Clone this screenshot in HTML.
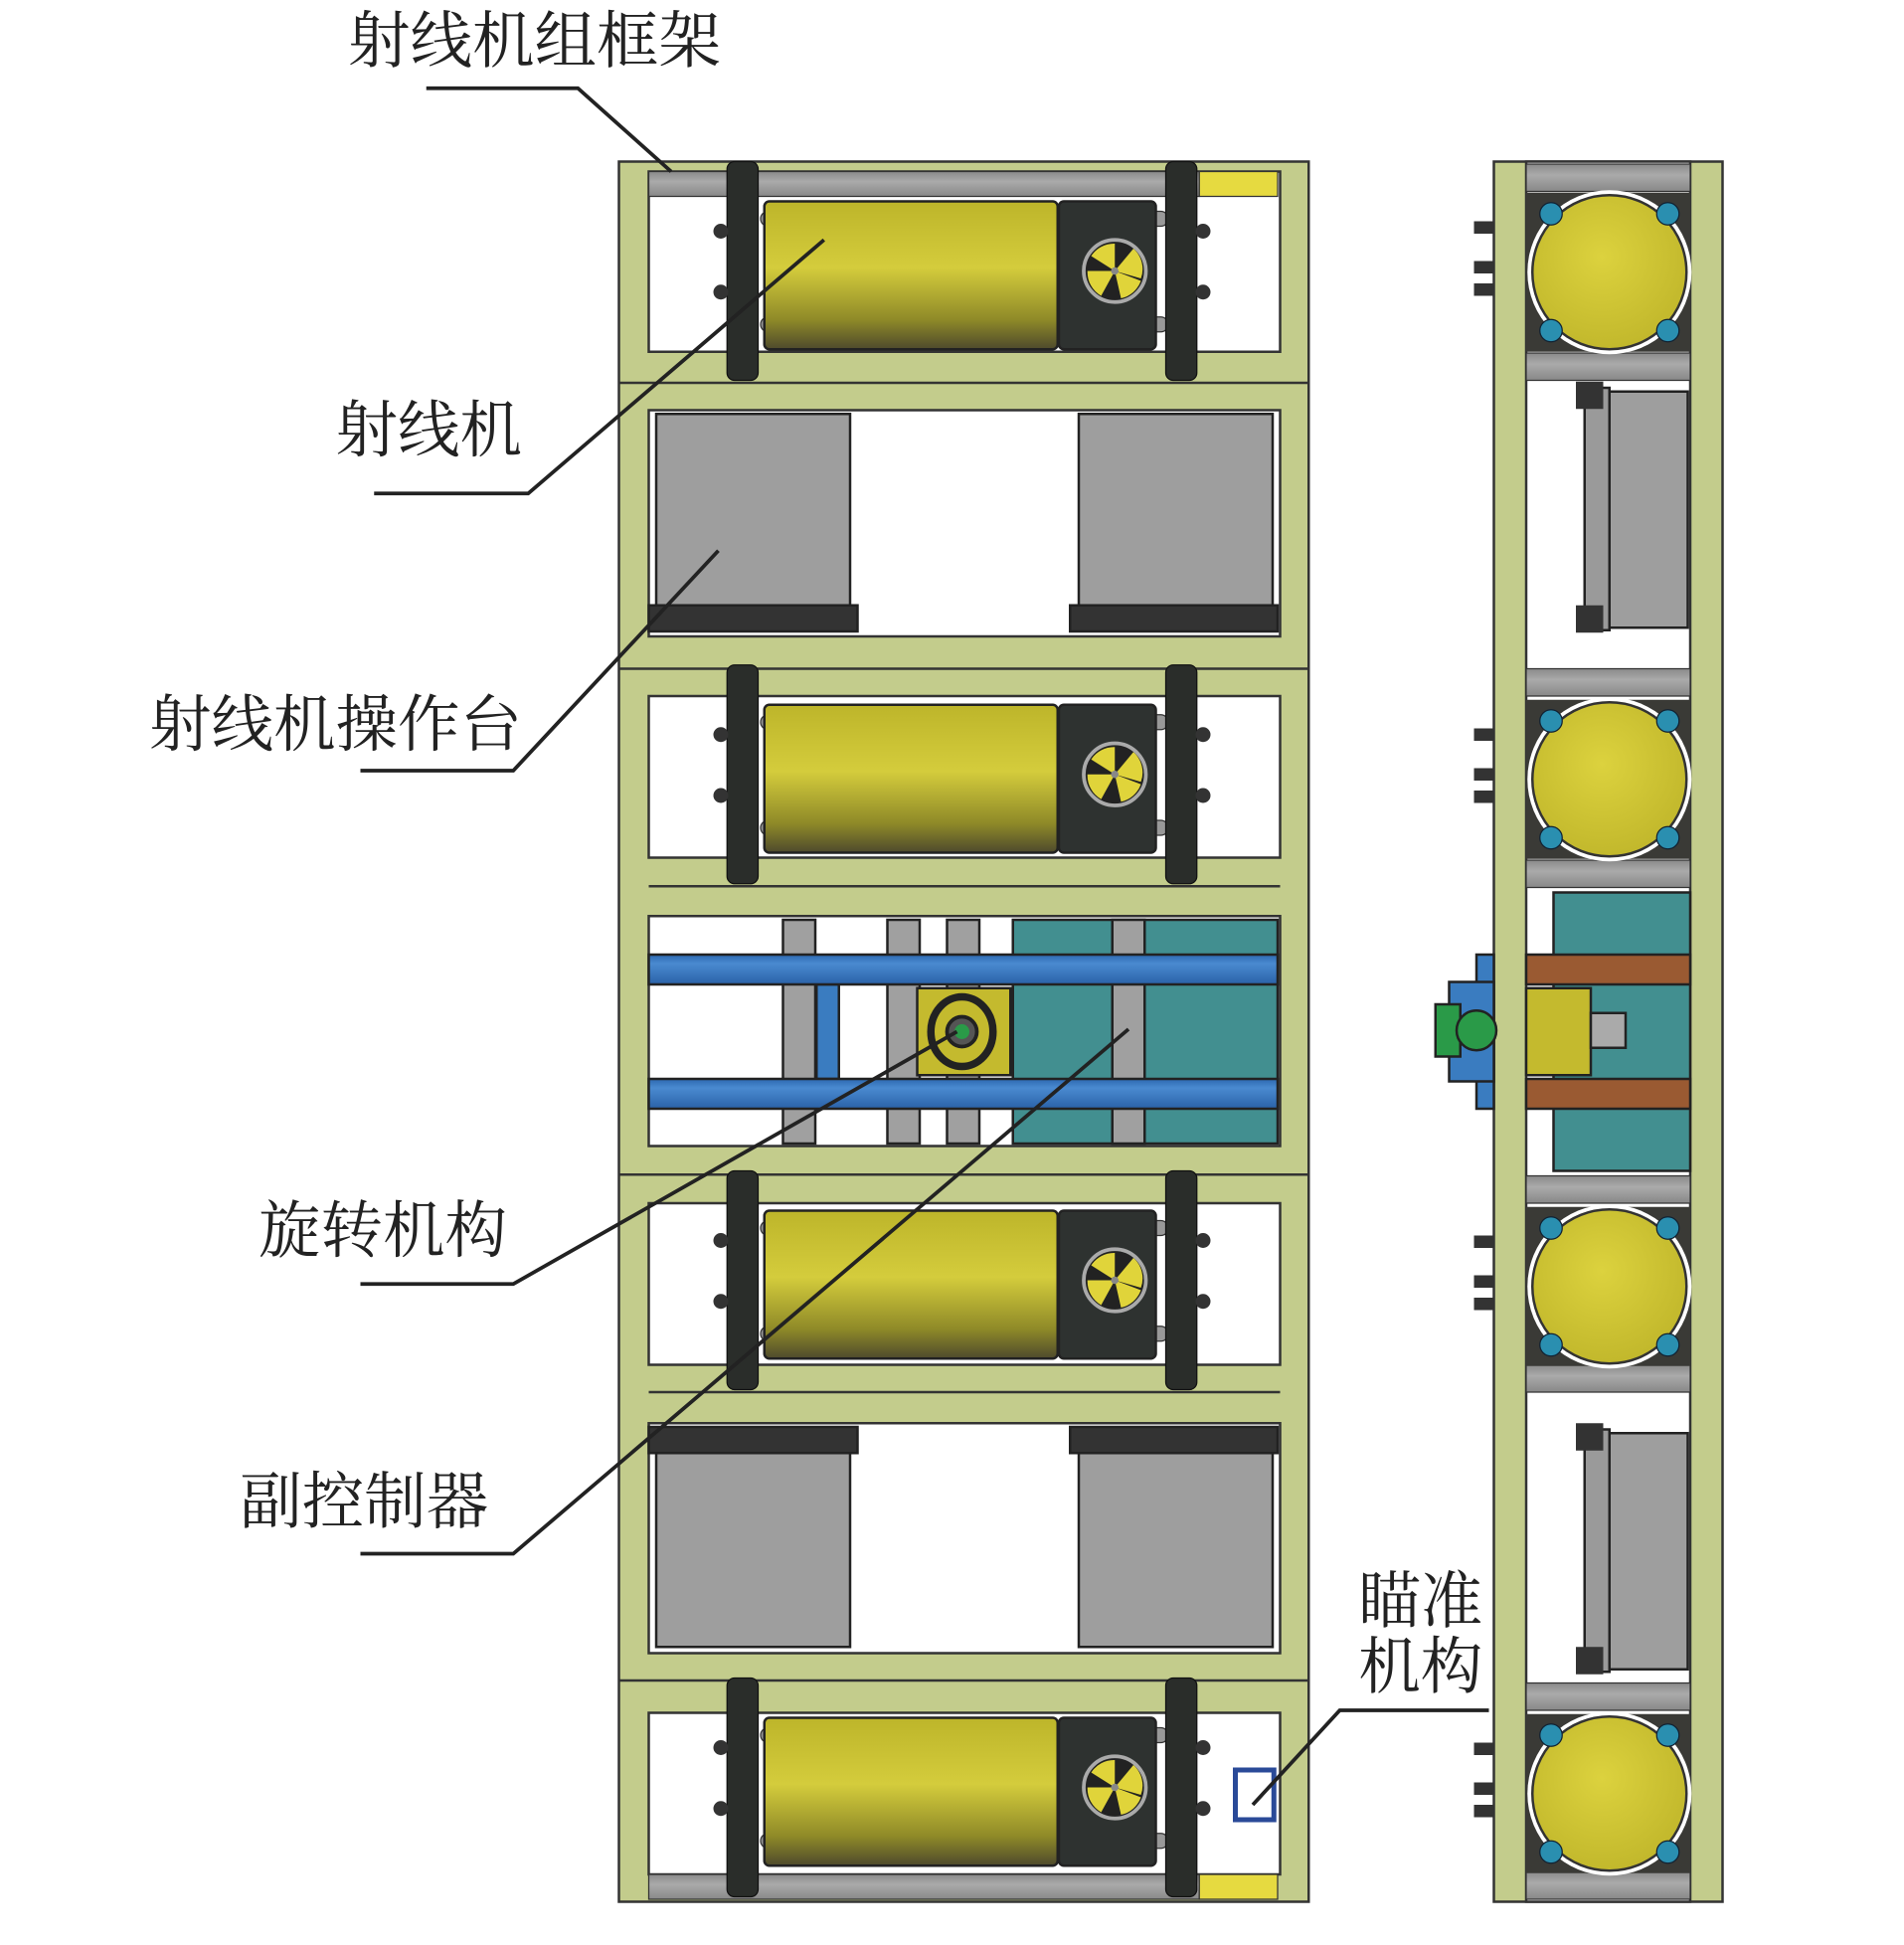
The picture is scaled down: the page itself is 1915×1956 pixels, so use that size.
<!DOCTYPE html>
<html><head><meta charset="utf-8"><style>
html,body{margin:0;padding:0;background:#fff}
svg{display:block}
text{font-family:"Liberation Serif","Noto Serif CJK SC",serif;fill:#222;font-size:50px}
</style></head><body>
<svg width="1915" height="1956" viewBox="0 0 1532 1564.8" preserveAspectRatio="none" xmlns="http://www.w3.org/2000/svg">
<defs>
<linearGradient id="cyl" x1="0" y1="0" x2="0" y2="1">
<stop offset="0" stop-color="#bdb52a"/><stop offset="0.45" stop-color="#d4cc3c"/><stop offset="0.8" stop-color="#8f8a28"/><stop offset="1" stop-color="#4e4a2c"/></linearGradient>
<linearGradient id="gbar" x1="0" y1="0" x2="0" y2="1"><stop offset="0" stop-color="#8a8a8a"/><stop offset="0.4" stop-color="#aaa"/><stop offset="1" stop-color="#888"/></linearGradient>
<linearGradient id="bbar" x1="0" y1="0" x2="0" y2="1"><stop offset="0" stop-color="#2c68b0"/><stop offset="0.3" stop-color="#4a8ad0"/><stop offset="1" stop-color="#2a62a8"/></linearGradient>
<radialGradient id="ball" cx="0.45" cy="0.4" r="0.6"><stop offset="0" stop-color="#dcd23e"/><stop offset="1" stop-color="#c2b82c"/></radialGradient>
<g id="mach">
<rect x="612" y="170" width="22" height="12" rx="6" fill="#999" stroke="#333"/>
<rect x="612" y="255" width="22" height="12" rx="6" fill="#999" stroke="#333"/>
<rect x="918" y="170" width="22" height="12" rx="6" fill="#999" stroke="#333"/>
<rect x="918" y="255" width="22" height="12" rx="6" fill="#999" stroke="#333"/>
<rect x="615" y="162" width="236" height="119" rx="4" fill="url(#cyl)" stroke="#222" stroke-width="2"/>
<rect x="852" y="162" width="78" height="119" rx="4" fill="#2e3230" stroke="#222" stroke-width="2"/>
<circle cx="897" cy="218" r="25" fill="#222" stroke="#aaa" stroke-width="3"/>
<path d="M897 218 L912 200 A22 22 0 0 1 918 224 Z M897 218 L886 238 A22 22 0 0 1 875 218 Z M897 218 L897 196 A22 22 0 0 0 878 206 Z M897 218 L918 226 A22 22 0 0 1 902 240 Z" fill="#e0d43a"/>
<circle cx="897" cy="218" r="3" fill="#888"/>
<rect x="585" y="130" width="25" height="176" rx="6" fill="#2a2d2a" stroke="#111"/>
<rect x="938" y="130" width="25" height="176" rx="6" fill="#2a2d2a" stroke="#111"/>
<circle cx="580" cy="186" r="6" fill="#333"/><circle cx="580" cy="235" r="6" fill="#333"/>
<circle cx="968" cy="186" r="6" fill="#333"/><circle cx="968" cy="235" r="6" fill="#333"/>
</g>
<g id="ball1">
<rect x="1228" y="155" width="132" height="128" fill="#3a3a36"/>
<circle cx="1295" cy="219" r="66" fill="#fff"/>
<circle cx="1295" cy="219" r="62" fill="url(#ball)" stroke="#333" stroke-width="2"/>
<g fill="#2a8fb0" stroke="#123"><circle cx="1248" cy="172" r="9"/><circle cx="1342" cy="172" r="9"/><circle cx="1248" cy="266" r="9"/><circle cx="1342" cy="266" r="9"/></g>
<g fill="#333"><rect x="1186" y="178" width="16" height="10"/><rect x="1186" y="210" width="16" height="10"/><rect x="1186" y="228" width="16" height="10"/></g>
</g>
<g id="box1">
<rect x="1275" y="312" width="20" height="195" fill="#9a9a9a" stroke="#222" stroke-width="2"/>
<rect x="1295" y="315" width="63" height="190" fill="#9e9e9e" stroke="#222" stroke-width="2"/>
<rect x="1268" y="307" width="22" height="22" fill="#333"/><rect x="1268" y="487" width="22" height="22" fill="#333"/>
</g>
</defs>

<g stroke="#333" stroke-width="2">
<rect x="498" y="130" width="555" height="1400" fill="#c3cc8c"/>
<rect x="522" y="138" width="508" height="145" fill="#fff"/>
<rect x="522" y="330" width="508" height="182" fill="#fff"/>
<rect x="522" y="560" width="508" height="130" fill="#fff"/>
<rect x="522" y="737" width="508" height="185" fill="#fff"/>
<rect x="522" y="968" width="508" height="130" fill="#fff"/>
<rect x="522" y="1145" width="508" height="185" fill="#fff"/>
<rect x="522" y="1378" width="508" height="130" fill="#fff"/>
<line x1="522" y1="283" x2="1030" y2="283"/><line x1="498" y1="308" x2="1053" y2="308"/>
<line x1="498" y1="538" x2="1053" y2="538"/><line x1="522" y1="713" x2="1030" y2="713"/>
<line x1="498" y1="945" x2="1053" y2="945"/><line x1="522" y1="1120" x2="1030" y2="1120"/>
<line x1="498" y1="1352" x2="1053" y2="1352"/>
</g>
<rect x="522" y="138" width="443" height="20" fill="url(#gbar)" stroke="#333"/>
<rect x="965" y="138" width="63" height="20" fill="#e6da40" stroke="#333"/>
<rect x="522" y="1508" width="443" height="20" fill="url(#gbar)" stroke="#333"/>
<rect x="965" y="1508" width="63" height="20" fill="#e6da40" stroke="#333"/>

<use href="#mach"/>
<use href="#mach" transform="translate(0,405)"/>
<use href="#mach" transform="translate(0,812)"/>
<use href="#mach" transform="translate(0,1220)"/>

<g stroke="#222" stroke-width="2">
<rect x="528" y="333" width="156" height="154" fill="#9e9e9e"/>
<rect x="868" y="333" width="156" height="154" fill="#9e9e9e"/>
<rect x="522" y="487" width="168" height="21" fill="#333"/>
<rect x="861" y="487" width="167" height="21" fill="#333"/>
<rect x="522" y="1148" width="168" height="21" fill="#333"/>
<rect x="861" y="1148" width="167" height="21" fill="#333"/>
<rect x="528" y="1169" width="156" height="156" fill="#9e9e9e"/>
<rect x="868" y="1169" width="156" height="156" fill="#9e9e9e"/>
</g>

<g stroke="#222" stroke-width="2">
<rect x="815" y="740" width="213" height="180" fill="#428f90"/>
<rect x="630" y="740" width="26" height="180" fill="#a0a0a0"/>
<rect x="714" y="740" width="26" height="180" fill="#a0a0a0"/>
<rect x="762" y="740" width="26" height="180" fill="#a0a0a0"/>
<rect x="895" y="740" width="26" height="180" fill="#a0a0a0"/>
<rect x="657" y="792" width="18" height="76" fill="#3a7cc0"/>
<rect x="738" y="795" width="75" height="70" fill="#c4ba2e"/>
<rect x="522" y="768" width="506" height="24" fill="url(#bbar)"/>
<rect x="522" y="868" width="506" height="24" fill="url(#bbar)"/>
</g>
<ellipse cx="774" cy="830" rx="25" ry="28" fill="none" stroke="#222" stroke-width="6"/>
<circle cx="774" cy="830" r="12" fill="#555" stroke="#222" stroke-width="3"/>
<circle cx="774" cy="830" r="6" fill="#2a9a48"/>

<rect x="994" y="1424" width="31" height="40" fill="none" stroke="#2a4a98" stroke-width="4"/>

<g stroke="#333" stroke-width="2">
<rect x="1202" y="130" width="184" height="1400" fill="#c3cc8c"/>
<rect x="1228" y="130" width="132" height="1400" fill="#fff"/>
</g>
<g stroke="#333">
<rect x="1228" y="132" width="132" height="22" fill="url(#gbar)"/>
<rect x="1228" y="284" width="132" height="22" fill="url(#gbar)"/>
<rect x="1228" y="538" width="132" height="22" fill="url(#gbar)"/>
<rect x="1228" y="692" width="132" height="22" fill="url(#gbar)"/>
<rect x="1228" y="946" width="132" height="22" fill="url(#gbar)"/>
<rect x="1228" y="1098" width="132" height="22" fill="url(#gbar)"/>
<rect x="1228" y="1354" width="132" height="22" fill="url(#gbar)"/>
<rect x="1228" y="1506" width="132" height="22" fill="url(#gbar)"/>
</g>
<use href="#ball1"/>
<use href="#ball1" transform="translate(0,408)"/>
<use href="#ball1" transform="translate(0,816)"/>
<use href="#ball1" transform="translate(0,1224)"/>
<use href="#box1"/>
<use href="#box1" transform="translate(0,838)"/>
<g stroke="#222" stroke-width="2">
<rect x="1250" y="718" width="110" height="224" fill="#428f90"/>
<rect x="1228" y="768" width="132" height="24" fill="#9a5a32"/>
<rect x="1228" y="868" width="132" height="24" fill="#9a5a32"/>
<rect x="1228" y="795" width="52" height="70" fill="#c4ba2e"/>
<rect x="1280" y="815" width="28" height="28" fill="#aaa"/>
<rect x="1188" y="768" width="14" height="124" fill="#3a7cc0"/>
<rect x="1166" y="790" width="36" height="80" fill="#3a7cc0"/>
<rect x="1155" y="808" width="20" height="42" fill="#2a9a48"/>
<circle cx="1188" cy="829" r="16" fill="#2a9a48"/>
</g>

<g stroke="#222" stroke-width="3" fill="none">
<polyline points="343,71 465,71 540,138"/>
<polyline points="301,397 425,397 663,193"/>
<polyline points="290,620 413,620 578,443"/>
<polyline points="290,1033 413,1033 770,830"/>
<polyline points="290,1250 413,1250 908,828"/>
<polyline points="1198,1376 1078,1376 1008,1452"/>
</g>

<text x="280" y="50">射线机组框架</text>
<text x="270" y="363">射线机</text>
<text x="120" y="600">射线机操作台</text>
<text x="208" y="1007">旋转机构</text>
<text x="193" y="1225">副控制器</text>
<text x="1093" y="1305">瞄准</text>
<text x="1093" y="1358">机构</text>
</svg>
</body></html>
